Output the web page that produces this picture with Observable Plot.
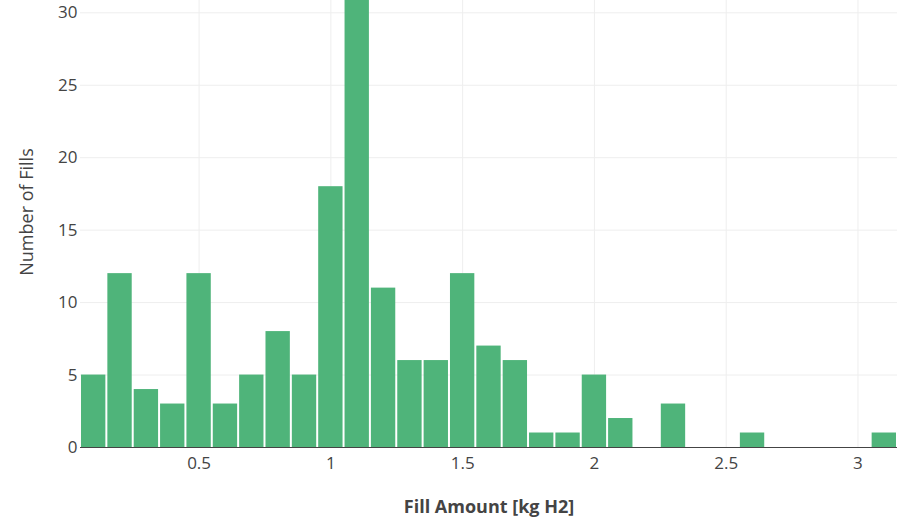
<!DOCTYPE html>
<html>
<head>
<meta charset="utf-8">
<script src="https://cdn.jsdelivr.net/npm/d3@7"></script>
<script src="https://cdn.jsdelivr.net/npm/@observablehq/plot@0.6"></script>
<style>
  html, body { margin: 0; padding: 0; background: #fff; }
  #chart svg { display: block; }
</style>
</head>
<body>
<div id="chart"></div>
<script>
// Histogram bins (center of each 0.1 kg bin) and counts
const binCenters = [0.1, 0.2, 0.3, 0.4, 0.5, 0.6, 0.7, 0.8, 0.9, 1.0, 1.1, 1.2, 1.3, 1.4, 1.5, 1.6, 1.7, 1.8, 1.9, 2.0, 2.1, 2.2, 2.3, 2.4, 2.5, 2.6, 2.7, 2.8, 2.9, 3.0, 3.1];
const counts     = [5,   12,  4,   3,   12,  3,   5,   8,   5,   18,  32,  11,  6,   6,   12,  7,   6,   1,   1,   5,   2,   0,   3,   0,   0,   1,   0,   0,   0,   0,   1];
const binWidth = 0.1;
const xTicks = [0.5, 1, 1.5, 2, 2.5, 3];
const yTicks = [0, 5, 10, 15, 20, 25, 30];
const xTitle = "Fill Amount [kg H2]";
const yTitle = "Number of Fills";

const data = binCenters.map((c, i) => ({x1: c - binWidth / 2, x2: c + binWidth / 2, count: counts[i]}))
  .filter(d => d.count > 0);

const chart = Plot.plot({
  width: 905,
  height: 518,
  marginLeft: 80,
  marginRight: 8,
  marginTop: 0,
  marginBottom: 71,
  style: {fontFamily: "'Open Sans', sans-serif", fontSize: "17px", color: "#444", background: "#fff"},
  x: {domain: [0.05, 3.15], ticks: xTicks, tickFormat: d => String(d), label: null},
  y: {domain: [0, 30.85], ticks: yTicks, label: null},
  marks: [
    Plot.gridX(xTicks, {stroke: "#eee", strokeOpacity: 1}),
    Plot.gridY(yTicks.filter(d => d > 0), {stroke: "#eee", strokeOpacity: 1}),
    Plot.rectY(data, {x1: "x1", x2: "x2", y: "count", fill: "#4fb47a", insetLeft: 1, insetRight: 1, clip: true}),
    Plot.axisX(xTicks, {tickSize: 0, tickPadding: 9, tickFormat: d => String(d), fontSize: 17, fill: "#444"}),
    Plot.axisY(yTicks, {tickSize: 0, tickPadding: 3, fontSize: 17, fill: "#444"}),
    Plot.ruleY([0], {stroke: "#444", strokeWidth: 1}),
    Plot.text([xTitle], {frameAnchor: "bottom", dy: 65, fontWeight: "bold", fontSize: 18, fill: "#444"}),
    Plot.text([yTitle], {frameAnchor: "left", textAnchor: "middle", dx: -53, dy: -12, rotate: -90, fontSize: 18, fill: "#444"})
  ]
});
document.getElementById("chart").appendChild(chart);
</script>
</body>
</html>
